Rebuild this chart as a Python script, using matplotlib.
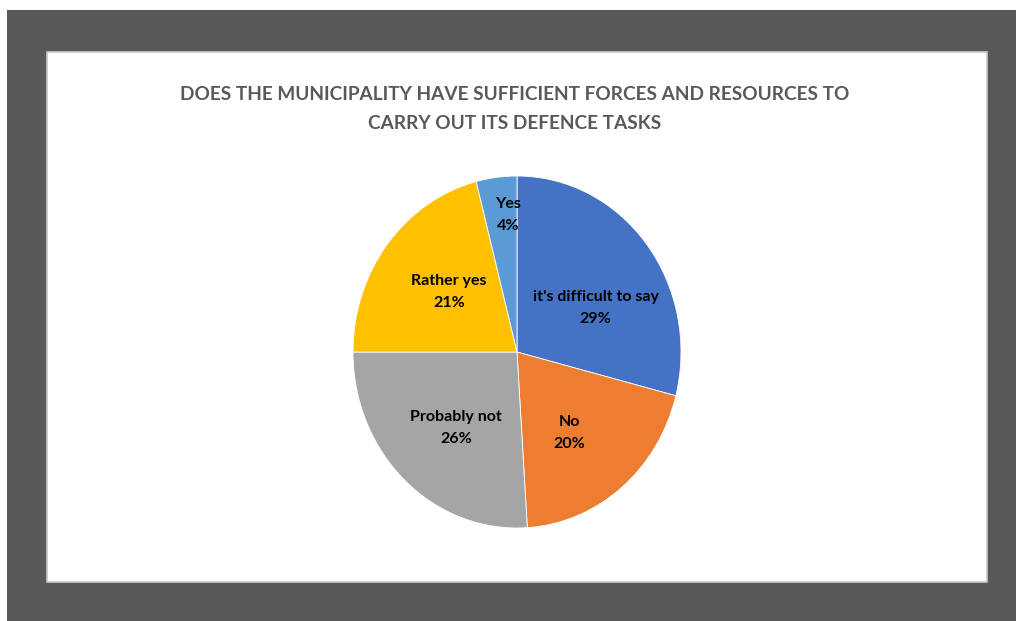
import matplotlib
matplotlib.use('Agg')
import matplotlib.pyplot as plt
from matplotlib.patches import Rectangle

# survey answers, clockwise from 12 o'clock
answers = ["it's difficult to say", 'No', 'Probably not', 'Rather yes', 'Yes']
shares = [29, 20, 26, 21, 4]
colors = ['#4472C4', '#ED7D31', '#A5A5A5', '#FFC000', '#5B9BD5']

title = 'DOES THE MUNICIPALITY HAVE SUFFICIENT FORCES AND RESOURCES TO\nCARRY OUT ITS DEFENCE TASKS'

# label anchor points inside each wedge (axes data units)
label_xy = [(0.48, 0.25), (0.32, -0.46), (-0.37, -0.43), (-0.415, 0.34), (-0.055, 0.78)]

FONT = ['Lato', 'DejaVu Sans']

W, H = 1016, 621
fig = plt.figure(figsize=(W / 100, H / 100), dpi=100)
fig.patch.set_facecolor('white')

# dark frame and white chart area
fig.patches.append(Rectangle((7 / W, 0), 1 - 7 / W, (H - 10) / H,
                             transform=fig.transFigure, facecolor='#595959',
                             edgecolor='none', zorder=0))
fig.patches.append(Rectangle((47 / W, (H - 582) / H), 940 / W, 530 / H,
                             transform=fig.transFigure, facecolor='white',
                             edgecolor='#c8c8c8', linewidth=1.2, zorder=1))

fig.text(515 / W, 1 - 109 / H, title, ha='center', va='center',
         fontsize=13.7, fontweight='bold', color='#595959',
         family=FONT, linespacing=1.85, zorder=3)

# pie is slightly taller than wide
cx, cy, rx, ry = 517, 352, 164, 176
ax = fig.add_axes([(cx - rx) / W, (H - cy - ry) / H, 2 * rx / W, 2 * ry / H])
ax.set_zorder(2)
ax.pie(shares, colors=colors, startangle=90, counterclock=False,
       wedgeprops=dict(edgecolor='white', linewidth=0.6))
ax.set_aspect('auto')
ax.set_xlim(-1, 1)
ax.set_ylim(-1, 1)
ax.axis('off')

for name, val, (x, y) in zip(answers, shares, label_xy):
    ax.text(x, y, f'{name}\n{val}%', ha='center', va='center', fontsize=11.5,
            fontweight='bold', color='black', linespacing=1.7, family=FONT)

fig.savefig('out.png', dpi=100)
